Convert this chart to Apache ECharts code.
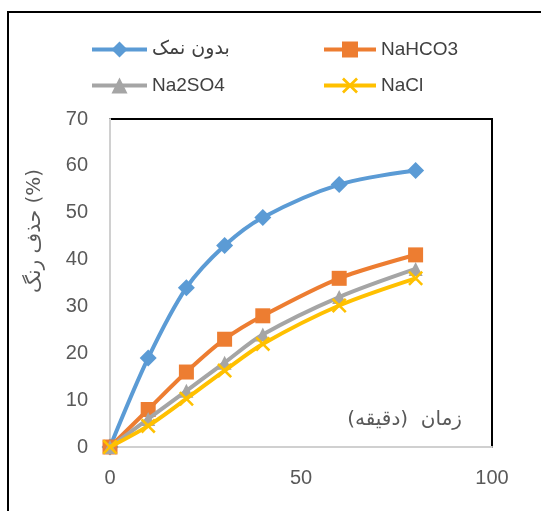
<!DOCTYPE html>
<html><head><meta charset="utf-8">
<script src="https://cdn.jsdelivr.net/npm/echarts@6/dist/echarts.min.js"></script>
<style>html,body{margin:0;padding:0;background:#fff}#c{width:541px;height:511px}</style>
</head><body><div id="c"></div>
<script>
const xValues = [0, 10, 20, 30, 40, 60, 80];
const seriesNames = ['بدون نمک', 'NaHCO3', 'Na2SO4', 'NaCl'];
const noSalt = [0, 19, 34, 43, 49, 56, 59];
const nahco3 = [0, 8, 16, 23, 28, 36, 41];
const na2so4 = [0, 6, 12, 18, 24, 32, 38];
const nacl = [0, 4.5, 10.3, 16.3, 22, 30.2, 36];
const yTicks = [0, 10, 20, 30, 40, 50, 60, 70];
const xTicks = [0, 50, 100];
const yName = 'حذف رنگ (%)';
const xName = 'زمان  (دقیقه)';

const colors = ['#5B9BD5', '#ED7D31', '#A5A5A5', '#FFC000'];
const xPath = 'path://M0,1.2L1.2,0L5,3.8L8.8,0L10,1.2L6.2,5L10,8.8L8.8,10L5,6.2L1.2,10L0,8.8L3.8,5Z';
const symbols = ['diamond', 'rect', 'triangle', xPath];
const sizes = [17, 15, 14, 15];
const allData = [noSalt, nahco3, na2so4, nacl];
const latin = '"Liberation Sans", "DejaVu Sans", sans-serif';
const persian = '"DejaVu Sans", "Noto Sans", sans-serif';

const chart = echarts.init(document.getElementById('c'));
const series = allData.map((d, i) => ({
  name: seriesNames[i],
  type: 'line',
  smooth: 0.3,
  data: xValues.map((x, j) => [x, d[j]]),
  symbol: symbols[i],
  symbolSize: sizes[i],
  showAllSymbol: true,
  lineStyle: { color: colors[i], width: 4 },
  itemStyle: { color: colors[i] },
  z: 2 + i
}));

const legendPos = [[85, 35], [317, 35], [85, 71], [317, 71]];
const legends = seriesNames.map((n, i) => ({
  data: [{ name: n }],
  left: legendPos[i][0],
  top: legendPos[i][1],
  itemWidth: i % 2 === 0 ? 55 : 52,
  itemHeight: 20,
  itemGap: 0,
  lineStyle: { width: 4 },
  textStyle: { fontSize: 19, color: '#404040', fontFamily: i === 0 ? persian : latin, padding: [0, 0, 0, 0] },
  selectedMode: false
}));

chart.setOption({
  animation: false,
  backgroundColor: '#fff',
  legend: legends,
  grid: { left: 110, top: 119, right: 49, bottom: 64, show: true, borderColor: '#000', borderWidth: 2, backgroundColor: 'transparent' },
  xAxis: {
    type: 'value', min: xTicks[0], max: xTicks[xTicks.length - 1], interval: 50,
    axisLine: { show: true, lineStyle: { color: '#D0D0D0', width: 2 } },
    axisTick: { show: false },
    splitLine: { show: false },
    axisLabel: { fontSize: 20, color: '#595959', fontFamily: latin, margin: 21 }
  },
  yAxis: {
    type: 'value', min: yTicks[0], max: yTicks[yTicks.length - 1], interval: 10,
    axisLine: { show: true, lineStyle: { color: '#D0D0D0', width: 2 } },
    axisTick: { show: false },
    splitLine: { show: false },
    axisLabel: { fontSize: 20, color: '#595959', fontFamily: latin, margin: 22 }
  },
  series: series,
  graphic: [
    { type: 'rect', shape: { x: 8, y: 12, width: 700, height: 700 }, style: { fill: 'none', stroke: '#000', lineWidth: 2 }, z: 100, silent: true },
    { type: 'text', x: 35, y: 231, rotation: Math.PI / 2,
      style: { text: yName, fontSize: 20, fill: '#595959', fontFamily: persian, align: 'center', verticalAlign: 'middle' } },
    { type: 'text', x: 462, y: 420,
      style: { text: xName, fontSize: 20, fill: '#595959', fontFamily: persian, align: 'right', verticalAlign: 'middle' } }
  ]
});
</script></body></html>
